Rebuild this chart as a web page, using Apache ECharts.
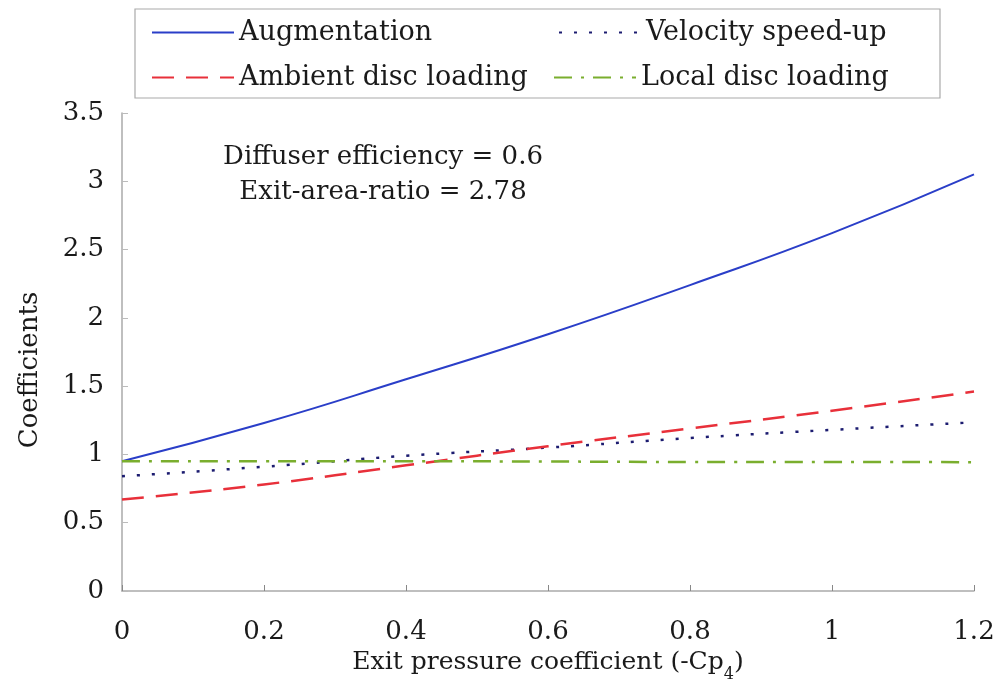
<!DOCTYPE html>
<html>
<head>
<meta charset="utf-8">
<script src="https://cdn.jsdelivr.net/npm/echarts@6/dist/echarts.min.js"></script>
<style>
  html, body { margin: 0; padding: 0; background: #fff; }
  #main { width: 995px; height: 683px; }
</style>
</head>
<body>
<div id="main"></div>
<script>
// exit pressure coefficient (-Cp4)
var cp = [0, 0.2, 0.4, 0.6, 0.8, 1.0, 1.2];
var augmentation = [0.95, 1.23, 1.55, 1.88, 2.24, 2.62, 3.05];
var velocitySpeedUp = [0.84, 0.91, 0.99, 1.05, 1.12, 1.18, 1.235];
var ambientLoading = [0.67, 0.78, 0.92, 1.06, 1.19, 1.32, 1.46];
var localLoading = [0.95, 0.95, 0.95, 0.948, 0.945, 0.945, 0.943];
var yTicks = [0, 0.5, 1, 1.5, 2, 2.5, 3, 3.5];

var font = 'DejaVu Serif';

function pairs(ys) {
    var out = [];
    for (var i = 0; i < cp.length; i++) out.push([cp[i], ys[i]]);
    return out;
}

function legendAt(name, left, top) {
    return {
        data: [name], left: left, top: top,
        itemWidth: 82, itemHeight: 14,
        itemStyle: { opacity: 0 },
        textStyle: { fontFamily: font, fontSize: 27, color: '#1a1a1a' },
        selectedMode: false
    };
}

var myChart = echarts.init(document.getElementById('main'));
var option = {
    backgroundColor: '#fff',
    animation: false,
    grid: { left: 122, right: 21, top: 113, bottom: 92, outerBoundsMode: 'none', containLabel: false },
    legend: [
        legendAt('Augmentation', 146, 14),
        legendAt('Velocity speed-up', 553, 14),
        legendAt('Ambient disc loading', 146, 59),
        legendAt('Local disc loading', 548, 59)
    ],
    graphic: [
        { type: 'rect', shape: { x: 135, y: 9, width: 805, height: 89 },
          style: { fill: 'none', stroke: '#aaa', lineWidth: 1.2 } },
        { type: 'text', x: 383, y: 157,
          style: { text: 'Diffuser efficiency = 0.6', font: '26px ' + font, fill: '#1a1a1a', textAlign: 'center', textVerticalAlign: 'middle' } },
        { type: 'text', x: 383, y: 192,
          style: { text: 'Exit-area-ratio = 2.78', font: '26px ' + font, fill: '#1a1a1a', textAlign: 'center', textVerticalAlign: 'middle' } },
        { type: 'text', x: 30, y: 370, rotation: Math.PI / 2,
          style: { text: 'Coefficients', font: '26px ' + font, fill: '#1a1a1a', textAlign: 'center', textVerticalAlign: 'middle' } }
    ],
    xAxis: {
        type: 'value', min: 0, max: 1.2, interval: 0.2,
        name: 'Exit pressure coefficient (-Cp{sub|4})',
        nameLocation: 'middle', nameGap: 56,
        nameTextStyle: {
            fontFamily: font, fontSize: 25, color: '#1a1a1a',
            rich: { sub: { fontFamily: font, fontSize: 16, color: '#1a1a1a', verticalAlign: 'bottom', padding: [0, 0, -8, 0] } }
        },
        axisLine: { show: true, lineStyle: { color: '#aaa', width: 1.5 } },
        axisTick: { show: true, inside: true, length: 6, lineStyle: { color: '#888' } },
        splitLine: { show: false },
        axisLabel: {
            fontFamily: font, fontSize: 26, color: '#1a1a1a', margin: 28,
            formatter: function (v) { return String(Math.round(v * 10) / 10); }
        }
    },
    yAxis: {
        type: 'value', min: yTicks[0], max: yTicks[yTicks.length - 1], interval: 0.5,
        axisLine: { show: true, lineStyle: { color: '#aaa', width: 1.5 } },
        axisTick: { show: true, inside: true, length: 6, lineStyle: { color: '#bbb' } },
        splitLine: { show: false },
        axisLabel: { fontFamily: font, fontSize: 26, color: '#1a1a1a', margin: 18 }
    },
    series: [
        { name: 'Augmentation', type: 'line', data: pairs(augmentation), smooth: true,
          symbol: 'none', lineStyle: { color: '#2a3ec8', width: 2, type: 'solid' }, itemStyle: { color: '#2a3ec8' } },
        { name: 'Velocity speed-up', type: 'line', data: pairs(velocitySpeedUp), smooth: true,
          symbol: 'none', lineStyle: { color: '#1c1c70', width: 2.5, type: [3, 12] }, itemStyle: { color: '#1c1c70' } },
        { name: 'Ambient disc loading', type: 'line', data: pairs(ambientLoading), smooth: true,
          symbol: 'none', lineStyle: { color: '#e8303a', width: 2.5, type: [22, 12] }, itemStyle: { color: '#e8303a' } },
        { name: 'Local disc loading', type: 'line', data: pairs(localLoading), smooth: true,
          symbol: 'none', lineStyle: { color: '#7aae2e', width: 2.5, type: [18, 9, 3, 9] }, itemStyle: { color: '#7aae2e' } }
    ]
};
myChart.setOption(option);
</script>
</body>
</html>
